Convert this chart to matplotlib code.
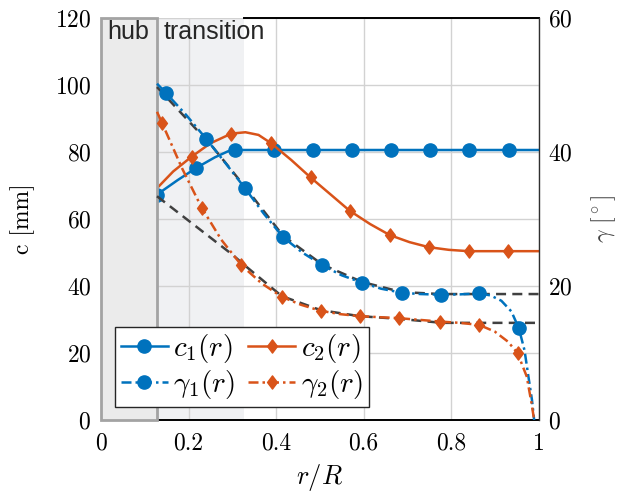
import matplotlib
matplotlib.use("Agg")
import matplotlib.pyplot as plt
from matplotlib.lines import Line2D
from matplotlib.patches import Rectangle
from matplotlib.path import Path

plt.rcParams["font.family"] = "serif"
plt.rcParams["font.serif"] = ["cmr10"]
plt.rcParams["mathtext.fontset"] = "cm"
plt.rcParams["axes.formatter.use_mathtext"] = True

BLUE = "#0072BD"
ORANGE = "#D95319"
REF = "#404040"

# region limits (r/R)
r_hub = 0.128
r_trans = 0.326

# chord c1 [mm]
r_c1 = [0.128, 0.175, 0.217, 0.26, 0.29, 0.306, 0.395, 0.485, 0.574, 0.663,
        0.753, 0.842, 0.932, 1.0]
c1 = [67.3, 71.6, 75.2, 78.4, 80.2, 80.6, 80.6, 80.6, 80.6, 80.6,
      80.6, 80.6, 80.6, 80.6]
c1_marks = [0, 2, 5, 6, 7, 8, 9, 10, 11, 12]

# chord c2 [mm]
r_c2 = [0.128, 0.165, 0.207, 0.25, 0.298, 0.33, 0.36, 0.389, 0.435, 0.479,
        0.525, 0.568, 0.615, 0.66, 0.705, 0.749, 0.795, 0.84, 0.931, 1.0]
c2 = [69.2, 74.2, 78.6, 82.6, 85.5, 85.9, 85.1, 82.6, 77.6, 72.4,
      67.3, 62.5, 58.5, 55.2, 53.1, 51.6, 50.8, 50.4, 50.4, 50.4]
c2_marks = [2, 4, 7, 9, 11, 13, 15, 17, 18]

# twist gamma1 [deg]
r_g1 = [0.128, 0.148, 0.195, 0.240, 0.285, 0.329, 0.372, 0.416, 0.46, 0.506,
        0.55, 0.597, 0.64, 0.687, 0.73, 0.776, 0.82, 0.864, 0.89, 0.915,
        0.938, 0.955, 0.968, 0.978, 0.985, 0.99]
g1 = [50.2, 48.85, 45.5, 42.0, 38.3, 34.6, 30.8, 27.3, 25.0, 23.1,
      21.6, 20.5, 19.6, 19.0, 18.8, 18.7, 18.75, 18.9, 18.6, 17.8,
      16.2, 13.7, 10.4, 6.0, 3.0, 0.0]
g1_marks = [1, 3, 5, 7, 9, 11, 13, 15, 17, 21]

# twist gamma2 [deg]
r_g2 = [0.128, 0.139, 0.16, 0.185, 0.230, 0.275, 0.321, 0.367, 0.413, 0.457,
        0.502, 0.547, 0.591, 0.681, 0.774, 0.82, 0.864, 0.90, 0.93, 0.952,
        0.973, 0.984, 0.99]
g2 = [46.0, 44.4, 41.3, 37.6, 31.7, 26.9, 23.1, 20.4, 18.4, 17.2,
      16.3, 15.8, 15.5, 15.2, 14.7, 14.5, 14.2, 13.2, 11.7, 10.0,
      6.5, 2.5, 0.0]
g2_marks = [1, 4, 6, 8, 10, 12, 13, 14, 16, 19]

# reference twist curves (dashed)
r_ref1 = [0.128, 0.256, 0.329, 0.416, 0.506, 0.597, 0.687, 0.776, 1.0]
ref1 = [49.7, 40.7, 34.8, 27.5, 23.2, 20.6, 19.1, 18.8, 18.8]
r_ref2 = [0.128, 0.30, 0.33, 0.413, 0.502, 0.591, 0.681, 0.78, 1.0]
ref2 = [33.4, 24.7, 23.0, 18.5, 16.4, 15.5, 15.1, 14.5, 14.5]

# MATLAB-like diamond, taller than wide
DIAMOND = Path([(0, 1), (0.75, 0), (0, -1), (-0.75, 0), (0, 1)],
               [Path.MOVETO, Path.LINETO, Path.LINETO, Path.LINETO, Path.CLOSEPOLY])
MS_O = 9.5
MS_D = 9.5

fig = plt.figure(figsize=(6.22, 4.95), dpi=100)
ax = fig.add_axes([0.1624, 0.1515, 0.7034, 0.8121])
ax2 = ax.twinx()

ax.set_xlim(0, 1)
ax.set_ylim(0, 120)
ax2.set_ylim(0, 60)

# shaded regions
ax.add_patch(Rectangle((r_hub, 0), r_trans - r_hub, 120, facecolor="#f0f1f3",
                       edgecolor="none", zorder=0.2, clip_on=False))
ax.grid(True, color="#d2d2d2", linewidth=1.0)
ax.set_axisbelow(True)

for a in (ax, ax2):
    for s in ("left", "top", "bottom"):
        a.spines[s].set_visible(False)
ax.spines["right"].set_visible(False)
ax2.spines["right"].set_color("#303030")
ax2.spines["right"].set_linewidth(1.0)

ax.axhline(0, xmin=r_hub, xmax=1, color="k", lw=1.4, clip_on=False, zorder=3)
ax.axhline(120, xmin=r_trans, xmax=1, color="k", lw=1.4, clip_on=False, zorder=3)

ax.plot(r_c1, c1, color=BLUE, lw=1.8, marker="o", ms=MS_O,
        markevery=c1_marks, zorder=4)
ax.plot(r_c2, c2, color=ORANGE, lw=1.8, marker=DIAMOND, ms=MS_D,
        markevery=c2_marks, zorder=4)

ax2.plot(r_ref1, ref1, color=REF, lw=1.8, ls=(0, (4, 2.5)), zorder=2)
ax2.plot(r_ref2, ref2, color=REF, lw=1.8, ls=(0, (4, 2.5)), zorder=2)
dashdot = (0, (4, 1.6, 1, 1.6))
ax2.plot(r_g1, g1, color=BLUE, lw=1.8, ls=dashdot, marker="o", ms=MS_O,
         markevery=g1_marks, zorder=4)
ax2.plot(r_g2, g2, color=ORANGE, lw=1.8, ls=dashdot, marker=DIAMOND, ms=MS_D,
         markevery=g2_marks, zorder=4)

ax2.add_patch(Rectangle((0, 0), r_hub, 60, facecolor="#ebebeb",
                        edgecolor="#a3a3a3", lw=2.0, zorder=1, clip_on=False))

ax2.text(0.015, 0.948, "hub", transform=ax.transAxes, fontsize=18,
         family="Liberation Sans", color="#262626", va="baseline", zorder=6)
ax2.text(0.144, 0.948, "transition", transform=ax.transAxes, fontsize=18,
         family="Liberation Sans", color="#262626", va="baseline", zorder=6)

ax.set_xticks([0, 0.2, 0.4, 0.6, 0.8, 1])
ax.set_xticklabels(["0", "0.2", "0.4", "0.6", "0.8", "1"])
ax.set_yticks([0, 20, 40, 60, 80, 100, 120])
ax2.set_yticks([0, 20, 40, 60])
ax.tick_params(length=0, labelsize=17, pad=7)
ax.tick_params(axis="x", pad=9)
ax2.tick_params(length=0, labelsize=17, pad=7)

ax.set_xlabel(r"$r/R$", fontsize=19, labelpad=5)
ax.set_ylabel("c [mm]", fontsize=17, labelpad=14)
ax2.set_ylabel(r"$\gamma\ [^\circ]$", fontsize=17, labelpad=12, color="#404040")

handles = [
    Line2D([], [], color=BLUE, lw=1.8, marker="o", ms=MS_O),
    Line2D([], [], color=BLUE, lw=1.8, ls=dashdot, marker="o", ms=MS_O),
    Line2D([], [], color=ORANGE, lw=1.8, marker=DIAMOND, ms=MS_D),
    Line2D([], [], color=ORANGE, lw=1.8, ls=dashdot, marker=DIAMOND, ms=MS_D),
]
labels = [r"$c_1(r)$", r"$\gamma_1(r)$", r"$c_2(r)$", r"$\gamma_2(r)$"]
leg = ax2.legend(handles, labels, ncol=2, loc="lower left",
                 bbox_to_anchor=(0.032, 0.032), borderaxespad=0,
                 fontsize=21, frameon=True, fancybox=False, edgecolor="#262626",
                 framealpha=1, handlelength=1.6, handletextpad=0.2,
                 columnspacing=0.45, labelspacing=0.1, borderpad=0.2)
leg.get_frame().set_linewidth(1.0)
leg.set_zorder(10)

fig.savefig("out.png", dpi=100)
